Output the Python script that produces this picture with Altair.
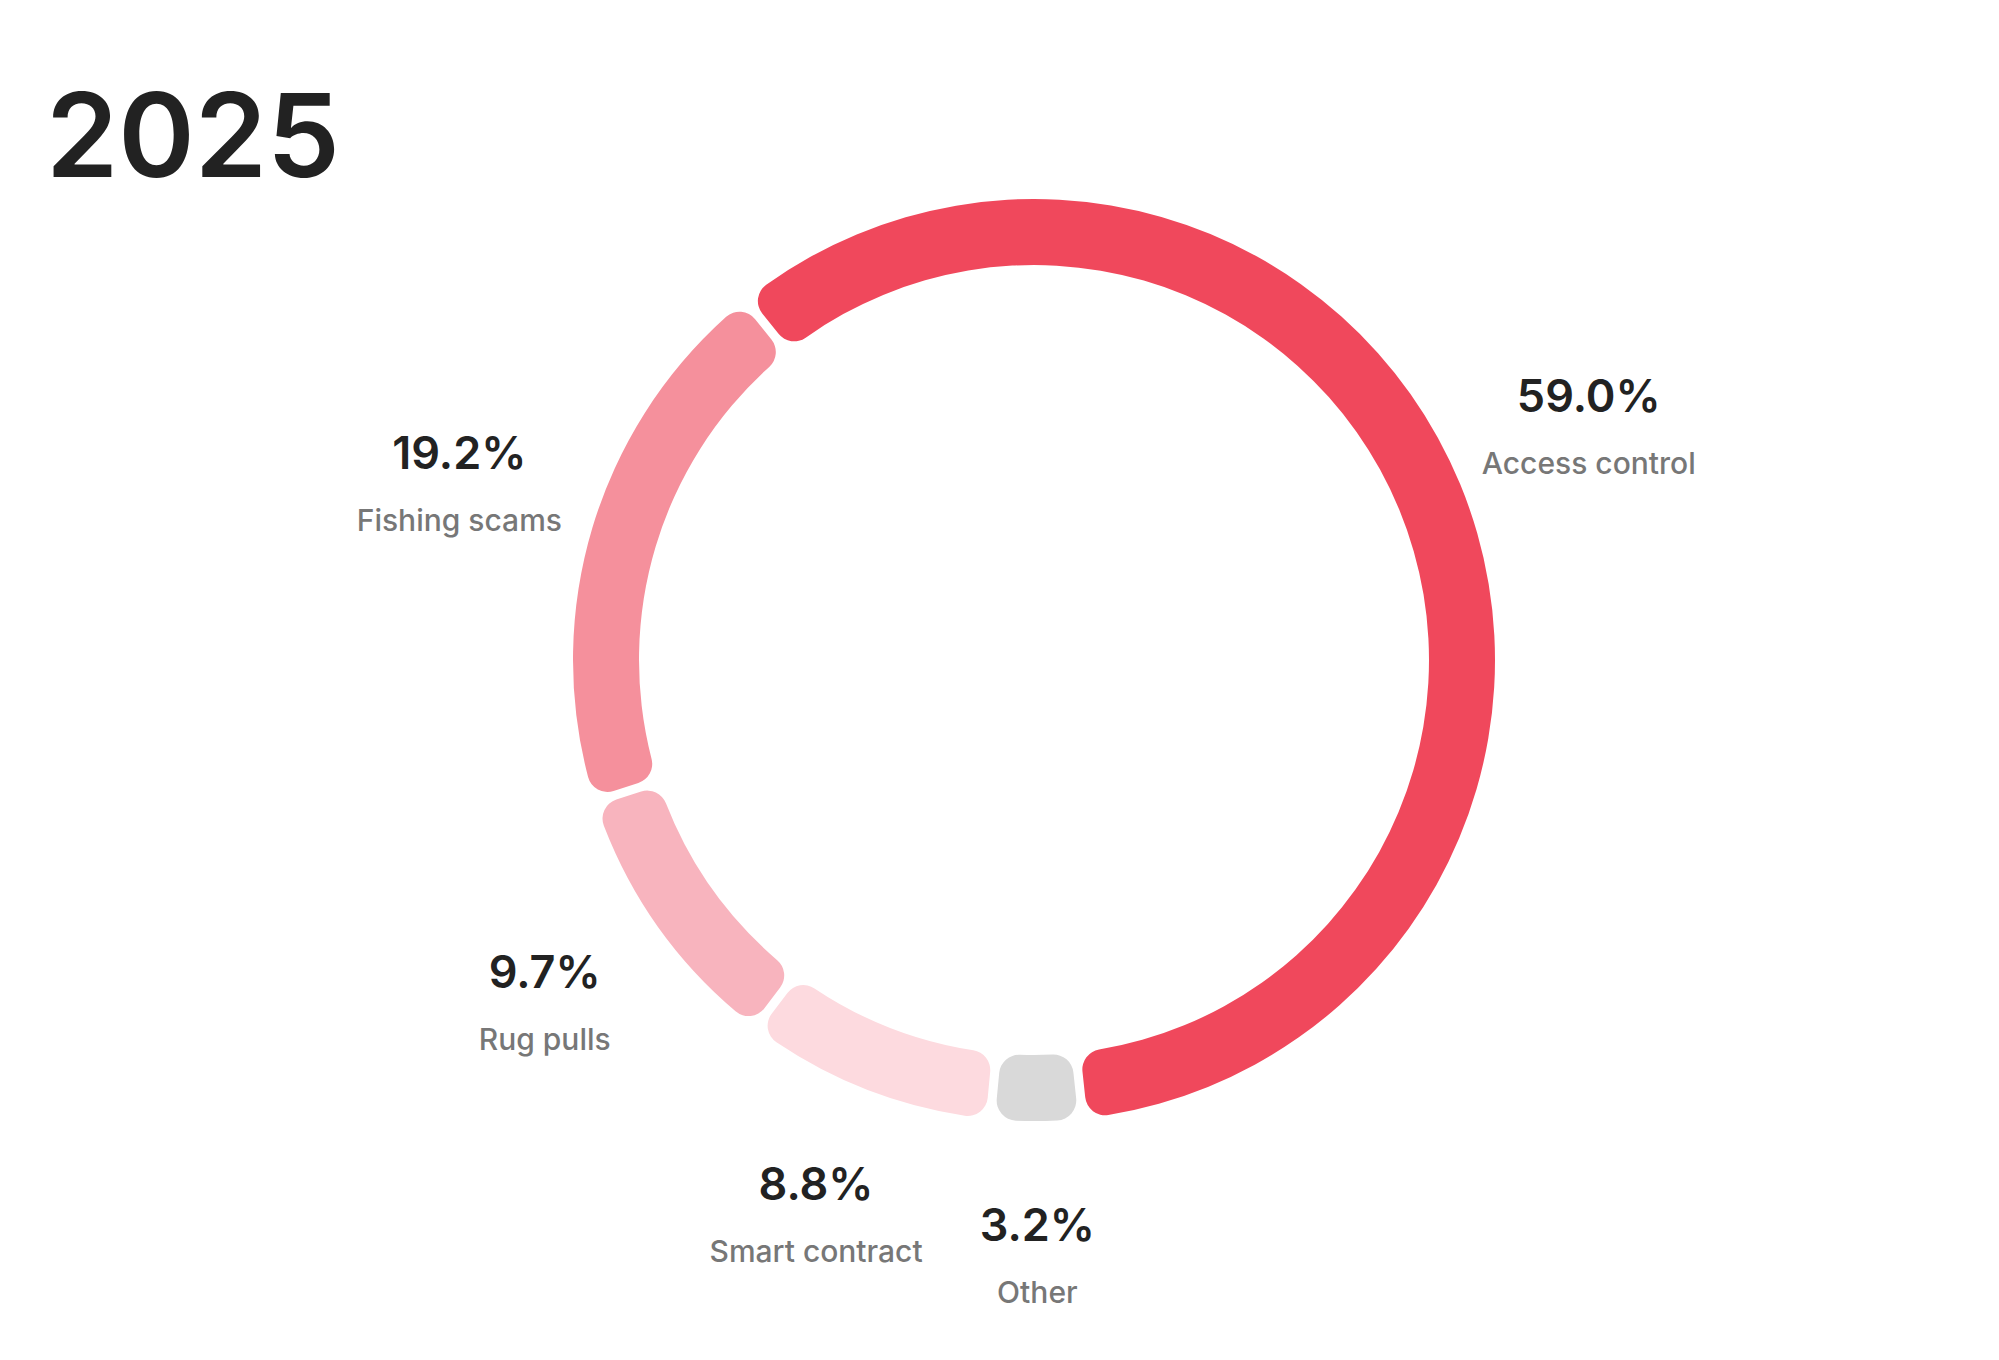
import math
import altair as alt
import pandas as pd

# ---- data ----
categories = ["Access control", "Other", "Smart contract", "Rug pulls", "Fishing scams"]
shares = [59.0, 3.2, 8.8, 9.7, 19.2]
pct_labels = ["59.0%", "3.2%", "8.8%", "9.7%", "19.2%"]
colors = ["#F0485C", "#D9D9D9", "#FDDADF", "#F8B4BE", "#F5909C"]
title_text = "2025"

df = pd.DataFrame({
    "category": categories,
    "share": shares,
    "pct": pct_labels,
    "rank": list(range(len(categories))),
})

# ---- layout ----
CX, CY = 1026, 652
R_OUT, R_IN = 461, 395
R_LABEL = 600
start = math.radians(-38.7)
theta_scale = alt.Scale(range=[start, start + 2 * math.pi])

base = alt.Chart(df).encode(
    theta=alt.Theta("share:Q", stack=True, scale=theta_scale),
    order=alt.Order("rank:Q"),
    x=alt.value(CX),
    y=alt.value(CY),
)

arcs = base.mark_arc(
    innerRadius=R_IN, outerRadius=R_OUT, padAngle=0.015, cornerRadius=20
).encode(
    color=alt.Color("category:N", scale=alt.Scale(domain=categories, range=colors), legend=None)
)

pct = base.mark_text(
    radius=R_LABEL, dy=-33, font="Inter", fontSize=45, fontWeight=600, color="#222222"
).encode(text="pct:N")

name = base.mark_text(
    radius=R_LABEL, dy=34, font="Inter", fontSize=30, fontWeight=500, color="#777777"
).encode(text="category:N")

chart = alt.layer(arcs, pct, name).properties(
    width=1983,
    height=1344,
    padding=0,
    autosize="none",
    title=alt.TitleParams(
        title_text,
        anchor="start",
        frame="group",
        orient="top",
        baseline="alphabetic",
        offset=-169,
        dx=38,
        dy=116,
        font="Inter",
        fontSize=116,
        fontWeight=600,
        color="#222222",
    ),
).configure_view(stroke=None)

chart.save("out.html", embed_options={"renderer": "svg", "actions": False})
